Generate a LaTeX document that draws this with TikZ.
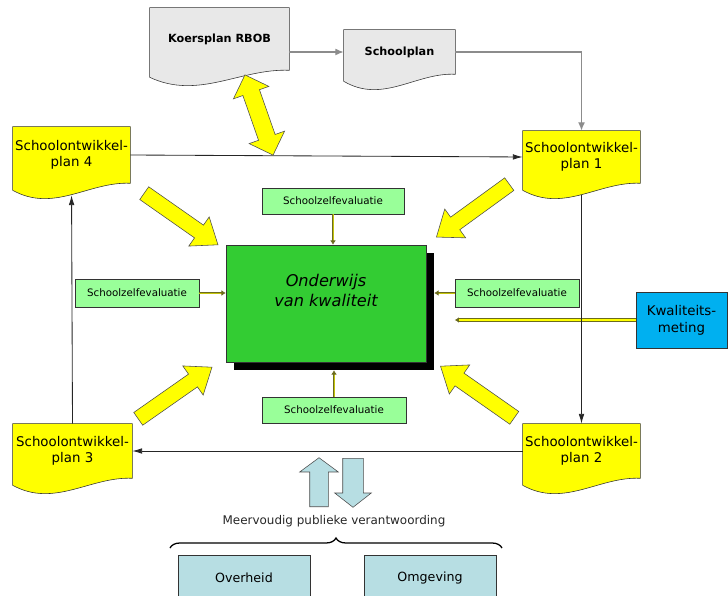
\documentclass[tikz,border=0pt]{standalone}
\usepackage{fontspec}
\setmainfont{DejaVu Sans}
\usetikzlibrary{positioning,calc,arrows.meta,shapes.arrows,shadows,backgrounds,decorations.pathreplacing}

\definecolor{docgrijs}{HTML}{E8E8E8}
\definecolor{sopgeel}{HTML}{FFFF00}
\definecolor{szegroen}{HTML}{99FF99}
\definecolor{kwalgroen}{HTML}{33CC33}
\definecolor{meetblauw}{HTML}{00B0F0}
\definecolor{pubblauw}{HTML}{B7DEE3}
\definecolor{lijngrijs}{HTML}{8C8C8C}
\definecolor{pijlolijf}{HTML}{6B6B1E}

\tikzset{
  doc/.style={draw=none, inner sep=1pt, align=center},
  sop/.style={doc, font=\fontsize{9.5}{11.5}\selectfont},
  kop/.style={doc, font=\fontsize{8}{10}\selectfont\bfseries},
  sze/.style={draw=black!80, fill=szegroen, inner sep=0pt, font=\fontsize{7.3}{9}\selectfont},
  pub/.style={draw=black!80, fill=pubblauw, minimum width=3.3cm, minimum height=1.15cm, inner sep=0pt, font=\fontsize{9}{11}\selectfont},
  geelpijl/.style={single arrow, draw=black!70, fill=sopgeel, inner xsep=0pt, inner ysep=0.1875cm, minimum height=2.25cm, single arrow head extend=0.25cm, single arrow tip angle=75},
  blauwpijl/.style={single arrow, draw=black!70, fill=pubblauw, inner xsep=0pt, minimum height=1.225cm},
  lijnpijl/.style={draw=black!85, line width=0.6pt, -{Latex[length=7pt,width=4pt]}},
  grijspijl/.style={draw=lijngrijs, line width=1pt, -{Latex[length=6pt,width=5pt]}},
  szepijl/.style={draw=pijlolijf, line width=0.5pt, double=sopgeel!60!pijlolijf, double distance=0.6pt, -{Latex[length=3pt,width=4pt]}},
}

% document met golvende onderkant
\newcommand{\docvorm}[2]{%
  \filldraw[#2] (#1.north west) -- (#1.north east) -- (#1.south east)
    .. controls ($(#1.south east)!0.35!(#1.south west)+(0,-2)$) and ($(#1.south east)!0.65!(#1.south west)+(0,30)$) .. ($(#1.south west)+(0,7)$) -- cycle;}

\begin{document}
\begin{tikzpicture}[x=0.025cm, y=-0.025cm]
\useasboundingbox (0,0) rectangle (728,596);

% plannen
\node[kop, minimum width=3.475cm, minimum height=1.55cm] (kp) at (219.5,39) {Koersplan RBOB};
\node[kop, minimum width=2.775cm, minimum height=1.1cm] (sp) at (399.5,52) {Schoolplan};
\node[sop, minimum width=2.925cm, minimum height=1.4cm] (sop4) at (71.5,155) {Schoolontwikkel-\\plan 4};
\node[sop, minimum width=2.925cm, minimum height=1.3cm] (sop1) at (581.5,157) {Schoolontwikkel-\\plan 1};
\node[sop, minimum width=2.925cm, minimum height=1.35cm] (sop2) at (581.5,451) {Schoolontwikkel-\\plan 2};
\node[sop, minimum width=2.975cm, minimum height=1.35cm] (sop3) at (72.5,451) {Schoolontwikkel-\\plan 3};

\begin{scope}[on background layer]
  \docvorm{kp}{fill=docgrijs, draw=black!80}
  \docvorm{sp}{fill=docgrijs, draw=black!80}
  \foreach \n in {sop1,sop2,sop3,sop4}{
    \docvorm{\n}{fill=sopgeel, draw=black!80}
  }
\end{scope}

% midden
\node[draw=black!80, fill=kwalgroen, minimum width=5cm, minimum height=2.925cm, align=center,
  font=\fontsize{11.5}{14}\selectfont\itshape,
  drop shadow={shadow xshift=0.2cm, shadow yshift=-0.2cm, fill=black, opacity=1}] (ok) at (326,303.5) {Onderwijs\\van kwaliteit\\[5pt]};

\node[sze, minimum width=3.55cm, minimum height=0.65cm] (szet) at (333,201) {Schoolzelfevaluatie};
\node[sze, minimum width=3.1cm, minimum height=0.7cm] (szel) at (137,293) {Schoolzelfevaluatie};
\node[sze, minimum width=3.1cm, minimum height=0.7cm] (szer) at (517,293) {Schoolzelfevaluatie};
\node[sze, minimum width=3.6cm, minimum height=0.65cm] (szeb) at (334,410) {Schoolzelfevaluatie};

\node[draw=black!80, fill=meetblauw, minimum width=2.275cm, minimum height=1.4cm, align=center,
  font=\fontsize{9.5}{12}\selectfont] (kw) at (681.5,320) {Kwaliteits-\\meting};

\draw[szepijl] (szet.south) -- (szet.south |- ok.north);
\draw[szepijl] (szel.east) -- (szel.east -| ok.west);
\draw[szepijl] (szer.west) -- ([xshift=0.2cm]szer.west -| ok.east);
\draw[szepijl] (szeb.north) -- ([yshift=-0.2cm]szeb.north |- ok.south);
\draw[draw=pijlolijf, line width=0.7pt, double=sopgeel, double distance=1.4pt, -{Latex[length=3pt,width=4pt]}] (kw.west) -- (kw.west -| szer.west);

% cyclus
\draw[grijspijl] (kp.east |- sp.west) -- (sp.west);
\draw[grijspijl] (sp.east) -| (sop1.north);
\draw[lijnpijl] (sop4.east) -- (sop1.west);
\draw[lijnpijl, shorten <=0.3cm] (sop1.south) -- (sop2.north);
\draw[lijnpijl] (sop2.west) -- (sop3.east);
\draw[lijnpijl, shorten >=0.3cm] (sop3.north) -- (sop4.south);

% gele pijlen
\node[geelpijl, double arrow, inner ysep=0.2125cm, double arrow head extend=0.25cm, minimum height=2.125cm, rotate=-70.7] (kpdub) at (259,115) {};
\node[geelpijl, rotate=-35, anchor=tail] (p4) at (144,193) {};
\node[geelpijl, rotate=-144, anchor=tail] (p1) at (509.5,184) {};
\node[geelpijl, rotate=35, anchor=tail] (p3) at (138,419) {};
\node[geelpijl, rotate=145, anchor=tail] (p2) at (514.5,418) {};

% verantwoording
\node[blauwpijl, rotate=90, anchor=tail, inner ysep=0.225cm, single arrow head extend=0.25cm, single arrow tip angle=107] (op) at (319,507) {};
\node[blauwpijl, rotate=-90, anchor=tail, inner ysep=0.25cm, single arrow head extend=0.2cm, single arrow tip angle=104] (neer) at (353,458) {};
\node[font=\fontsize{8.5}{10}\selectfont, text=black!85] (mpv) at (334,521) {Meervoudig publieke verantwoording};
\coordinate (bl) at (170,548);
\coordinate (br) at (502,548);
\draw[line width=0.9pt, decorate, decoration={brace, amplitude=0.25cm}] (bl) -- (br);
\node[pub] (ovh) at (244,578) {Overheid};
\node[pub] (omg) at (430,578) {Omgeving};
\end{tikzpicture}
\end{document}
